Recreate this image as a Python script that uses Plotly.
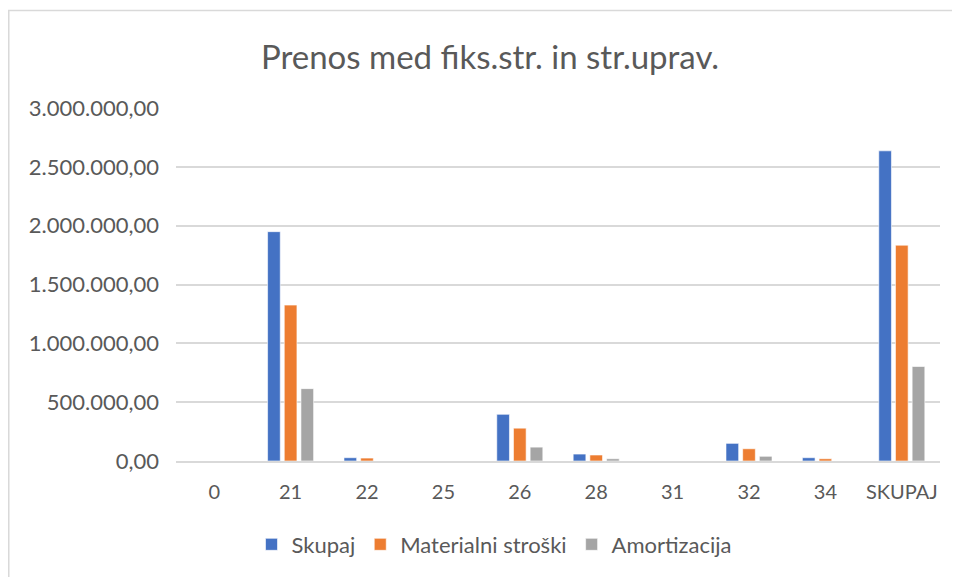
import plotly.graph_objects as go

categories = ["0", "21", "22", "25", "26", "28", "31", "32", "34", "SKUPAJ"]
skupaj = [0, 1949000, 28000, 0, 397000, 59000, 0, 150000, 28000, 2636000]
materialni = [0, 1325000, 25000, 0, 279000, 51000, 0, 104000, 19000, 1834000]
amortizacija = [0, 615000, 0, 0, 118000, 19000, 0, 40000, 0, 803000]
y_ticks = [0, 500000, 1000000, 1500000, 2000000, 2500000, 3000000]

series = [
    ("Skupaj", skupaj, "#4472C4"),
    ("Materialni stroški", materialni, "#ED7D31"),
    ("Amortizacija", amortizacija, "#A5A5A5"),
]

FONT = "Lato"
TXT = "#595959"

fig = go.Figure()
for name, vals, col in series:
    fig.add_trace(go.Bar(
        x=categories, y=vals, name=name,
        marker=dict(color=col, line=dict(color="white", width=0.6)),
    ))

# page body has an 8px offset; compensate so plot lands at page px 176..940 / 108..463
OFF = 8
W, H = 960 - OFF, 577 - OFF
L, R, T, B = 176 - OFF, 20, 108 - OFF, 577 - 463
pw, ph = W - L - R, H - T - B

fig.update_layout(
    width=W, height=H,
    margin=dict(l=L, r=R, t=T, b=B),
    paper_bgcolor="white", plot_bgcolor="white",
    separators=",.",
    barmode="group", bargap=0.345, bargroupgap=0.24,
    font=dict(family=FONT, color=TXT, size=20),
    title=dict(text="Prenos med fiks.str. in str.uprav.",
               x=(490 - OFF) / W, xanchor="center", xref="container",
               y=1 - (57 - OFF) / H, yanchor="middle", yref="container",
               font=dict(family=FONT, size=33, color=TXT)),
    legend=dict(orientation="h", x=(494 - 176) / pw, xanchor="center",
                y=-(547 - 463) / ph, yanchor="middle",
                font=dict(family=FONT, size=22, color=TXT),
                itemwidth=30, traceorder="normal"),
    showlegend=True,
)
fig.update_yaxes(range=[0, 3000000], tickvals=y_ticks, tickformat=",.2f",
                 showgrid=True, gridcolor="#D9D9D9", gridwidth=1.5,
                 zeroline=False, showline=False,
                 ticklabelstandoff=16,
                 tickfont=dict(family=FONT, size=22, color=TXT))
fig.update_xaxes(type="category", showline=True, linecolor="#D9D9D9", linewidth=1.5,
                 showgrid=False, ticklabelstandoff=12,
                 tickfont=dict(family=FONT, size=20, color=TXT))

fig.add_shape(type="rect", xref="paper", yref="paper",
              x0=(8 - 176) / pw + 0.001, x1=1.2, y0=-1.0, y1=(463 - 10) / ph,
              line=dict(color="#D9D9D9", width=1.5), fillcolor="rgba(0,0,0,0)",
              layer="below")

fig.write_html("out.html")
